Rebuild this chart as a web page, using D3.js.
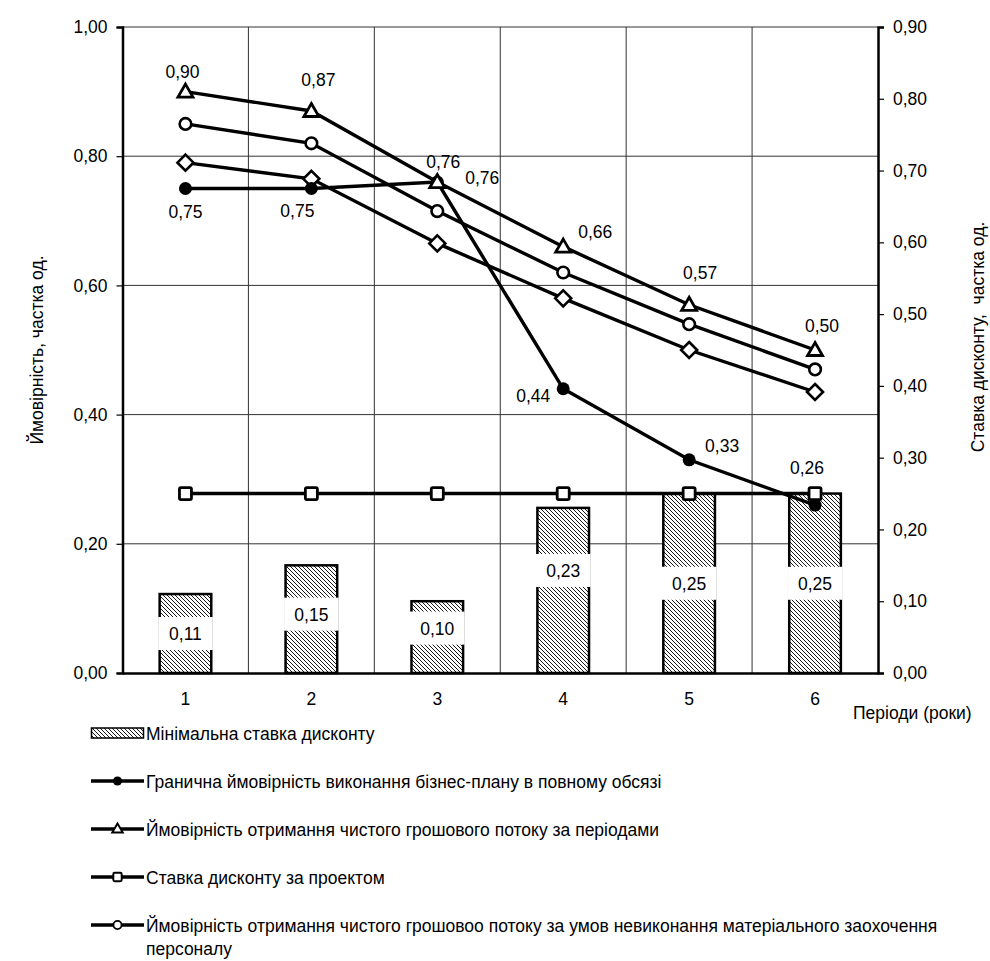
<!DOCTYPE html>
<html>
<head>
<meta charset="utf-8">
<script src="https://cdn.jsdelivr.net/npm/d3@7"></script>
<style>
  html, body { margin: 0; padding: 0; background: #fff; }
  svg text { font-family: "Liberation Sans", Arial, sans-serif; fill: #000; }
</style>
</head>
<body>
<svg id="chart" width="990" height="961"></svg>
<script>
// Periods (years)
const periods = ["1", "2", "3", "4", "5", "6"];

// Minimal discount rate (bars, right axis)
const minRate = [0.11, 0.15, 0.10, 0.23, 0.25, 0.25];
// Limit probability of full business-plan execution (left axis)
const limitProb = [0.75, 0.75, 0.76, 0.44, 0.33, 0.26];
// Probability of net cash flow by periods (left axis)
const flowProb = [0.90, 0.87, 0.76, 0.66, 0.57, 0.50];
// Project discount rate (right axis)
const projectRate = [0.25, 0.25, 0.25, 0.25, 0.25, 0.25];
// Probability of net cash flow without staff incentives (left axis)
const flowProbNoIncentive = [0.85, 0.82, 0.715, 0.62, 0.54, 0.47];
// Additional probability series (left axis)
const extraProb = [0.79, 0.765, 0.665, 0.58, 0.50, 0.435];

const leftTicks = [0, 0.2, 0.4, 0.6, 0.8, 1.0];
const rightTicks = [0, 0.1, 0.2, 0.3, 0.4, 0.5, 0.6, 0.7, 0.8, 0.9];

const legendLabels = [
  "Мінімальна ставка дисконту",
  "Гранична ймовірність виконання бізнес-плану в повному обсязі",
  "Ймовірність отримання чистого грошового потоку за періодами",
  "Ставка дисконту за проектом",
  ["Ймовірність отримання чистого грошовоо потоку за умов невиконання матеріального заохочення", "персоналу"]
];

// ---- layout ----
const FS = "17.5px";
const plot = { left: 122.5, right: 878, top: 27, bottom: 673 };
const svg = d3.select("#chart");
const fmt = v => d3.format(".2f")(v).replace(".", ",");

const x = d3.scaleBand().domain(periods).range([plot.left, plot.right]).paddingInner(0).paddingOuter(0);
const yL = d3.scaleLinear().domain([0, 1]).range([plot.bottom, plot.top]);
const yR = d3.scaleLinear().domain([0, 0.9]).range([plot.bottom, plot.top]);
const cx = d => x(d) + x.bandwidth() / 2;

// hatch pattern for bars
const defs = svg.append("defs");
const pat = defs.append("pattern").attr("id", "hatch").attr("patternUnits", "userSpaceOnUse")
  .attr("width", 4).attr("height", 4);
pat.append("rect").attr("width", 4).attr("height", 4).attr("fill", "#fff");
pat.append("path").attr("d", "M-1,-1 L5,5 M-1,3 L1,5 M3,-1 L5,1")
  .attr("stroke", "#000").attr("stroke-width", 0.9);

// grid
const grid = svg.append("g");
grid.selectAll("line.h").data(leftTicks.slice(1)).join("line")
  .attr("x1", plot.left).attr("x2", plot.right)
  .attr("y1", d => yL(d)).attr("y2", d => yL(d))
  .attr("stroke", "#333").attr("stroke-width", 1);
grid.selectAll("line.v").data(periods.slice(1)).join("line")
  .attr("x1", d => x(d)).attr("x2", d => x(d))
  .attr("y1", plot.top).attr("y2", plot.bottom)
  .attr("stroke", "#333").attr("stroke-width", 1);

// axes
const axL = svg.append("g").attr("transform", `translate(${plot.left},0)`)
  .call(d3.axisLeft(yL).tickValues(leftTicks).tickFormat(fmt).tickSize(6).tickPadding(9));
const axR = svg.append("g").attr("transform", `translate(${plot.right},0)`)
  .call(d3.axisRight(yR).tickValues(rightTicks).tickFormat(fmt).tickSize(6).tickPadding(9));
const axB = svg.append("g").attr("transform", `translate(0,${plot.bottom})`)
  .call(d3.axisBottom(x).tickSize(0).tickPadding(20));
[axL, axR, axB].forEach(a => {
  a.selectAll("text").style("font-size", FS).attr("fill", "#000");
  a.select(".domain").attr("stroke", "#000").attr("stroke-width", 2.5);
  a.selectAll(".tick line").attr("stroke", "#000").attr("stroke-width", 1.2);
});

// bars
const barW = x.bandwidth() * 0.41;
svg.append("g").selectAll("rect").data(minRate).join("rect")
  .attr("x", (d, i) => cx(periods[i]) - barW / 2)
  .attr("width", barW)
  .attr("y", d => yR(d))
  .attr("height", d => plot.bottom - yR(d))
  .attr("fill", "url(#hatch)")
  .attr("stroke", "#000").attr("stroke-width", 2.5);

// bar value labels
const barLabelDy = [0, -5, -9, -20, 0, 0];
const bl = svg.append("g");
minRate.forEach((v, i) => {
  const my = (yR(v) + plot.bottom) / 2 + barLabelDy[i];
  bl.append("rect").attr("x", cx(periods[i]) - barW / 2 - 1.5).attr("width", barW + 3)
    .attr("y", my - 16.5).attr("height", 33).attr("fill", "#fff");
  bl.append("text").attr("x", cx(periods[i])).attr("y", my + 6.5)
    .attr("text-anchor", "middle").style("font-size", FS).text(fmt(v));
});

// markers
function marker(g, type, px, py, scale = 1) {
  const s = scale;
  if (type === "dot") {
    g.append("circle").attr("cx", px).attr("cy", py).attr("r", 6.5 * s).attr("fill", "#000");
  } else if (type === "circle") {
    g.append("circle").attr("cx", px).attr("cy", py).attr("r", 5.8 * s)
      .attr("fill", "#fff").attr("stroke", "#000").attr("stroke-width", 2.6 * s);
  } else if (type === "triangle") {
    const w = 7.5 * s, h = 6.5 * s;
    g.append("path").attr("d", `M${px},${py - h - 1} L${px + w},${py + h - 1} L${px - w},${py + h - 1} Z`)
      .attr("fill", "#fff").attr("stroke", "#000").attr("stroke-width", 2.8 * s).attr("stroke-linejoin", "miter");
  } else if (type === "diamond") {
    const r = 8 * s;
    g.append("path").attr("d", `M${px},${py - r} L${px + r},${py} L${px},${py + r} L${px - r},${py} Z`)
      .attr("fill", "#fff").attr("stroke", "#000").attr("stroke-width", 2.6 * s);
  } else if (type === "square") {
    const r = 6 * s;
    g.append("rect").attr("x", px - r).attr("y", py - r).attr("width", 2 * r).attr("height", 2 * r)
      .attr("rx", 1.5).attr("fill", "#fff").attr("stroke", "#000").attr("stroke-width", 2.8 * s);
  }
}

function drawSeries(values, scale, type, labelOffsets) {
  const g = svg.append("g");
  const line = d3.line().x((d, i) => cx(periods[i])).y(d => scale(d));
  g.append("path").datum(values).attr("d", line)
    .attr("fill", "none").attr("stroke", "#000").attr("stroke-width", 3.4);
  values.forEach((v, i) => marker(g, type, cx(periods[i]), scale(v)));
  if (labelOffsets) {
    values.forEach((v, i) => {
      const [dx, dy] = labelOffsets[i];
      g.append("text").attr("x", cx(periods[i]) + dx).attr("y", scale(v) + dy + 6.5)
        .attr("text-anchor", "middle").style("font-size", FS).text(fmt(v));
    });
  }
}

drawSeries(extraProb, yL, "diamond", null);
drawSeries(flowProbNoIncentive, yL, "circle", null);
drawSeries(limitProb, yL, "dot", [[0, 23], [-14, 22], [45, -5], [-30, 7], [33, -14], [-8, -38]]);
drawSeries(flowProb, yL, "triangle", [[-3, -20], [7, -31], [6, -21], [32, -15], [11, -32], [7, -25]]);
drawSeries(projectRate, yR, "square", null);

// axis titles
svg.append("text").attr("transform", "translate(43,350) rotate(-90)")
  .attr("text-anchor", "middle").style("font-size", FS).text("Ймовірність, частка од.");
svg.append("text").attr("transform", "translate(984,337) rotate(-90)")
  .attr("text-anchor", "middle").style("font-size", FS).style("white-space", "pre")
  .text("Ставка дисконту,  частка од.");
svg.append("text").attr("x", 853).attr("y", 719).style("font-size", FS).text("Періоди (роки)");

// legend
const lg = svg.append("g");
const legendTypes = ["bar", "dot", "triangle", "square", "circle"];
legendTypes.forEach((t, i) => {
  const ly = 733 + i * 48;
  if (t === "bar") {
    lg.append("rect").attr("x", 91.5).attr("y", ly - 5).attr("width", 52).attr("height", 10)
      .attr("fill", "url(#hatch)").attr("stroke", "#000").attr("stroke-width", 1.5);
  } else {
    lg.append("line").attr("x1", 91).attr("x2", 144).attr("y1", ly).attr("y2", ly)
      .attr("stroke", "#000").attr("stroke-width", 3.4);
    marker(lg, t, 117.5, ly, 0.7);
  }
  const lab = legendLabels[i];
  const txt = lg.append("text").attr("x", 146).attr("y", ly + 6.5).style("font-size", FS);
  if (Array.isArray(lab)) {
    lab.forEach((l, k) => txt.append("tspan").attr("x", 146).attr("dy", k === 0 ? 0 : 23).text(l));
  } else {
    txt.text(lab);
  }
});
</script>
</body>
</html>
